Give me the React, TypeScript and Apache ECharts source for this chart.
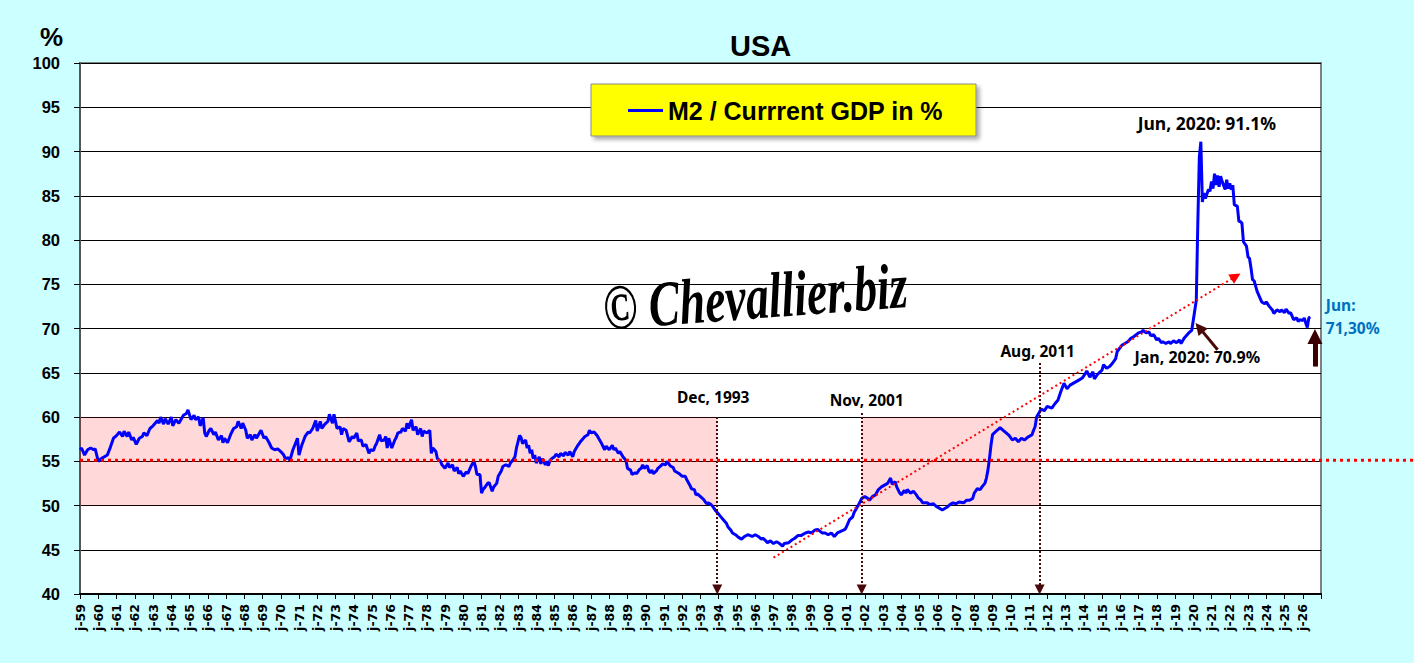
import { useEffect, useRef } from 'react'
import * as echarts from 'echarts'

// M2 / current GDP (%) — USA, monthly readings taken from the chart
const FIRST_YEAR = 1959
const AXIS_MONTHS = 816 // Jan 1959 .. Dec 2026

const months = [
  '1959-01','1959-02','1959-04','1959-06','1959-08','1959-10','1959-11',
  '1960-01','1960-03','1960-07','1960-09','1960-11',
  '1961-01','1961-03','1961-05','1961-06','1961-08','1961-09','1961-11','1961-12',
  '1962-02','1962-04','1962-06','1962-07','1962-09','1962-11',
  '1963-01','1963-04','1963-05','1963-06','1963-08','1963-09','1963-11',
  '1964-01','1964-02','1964-04','1964-06','1964-08','1964-09','1964-11','1964-12',
  '1965-02','1965-04','1965-05','1965-07','1965-08','1965-10','1965-11','1965-12',
  '1966-02','1966-03','1966-05','1966-06','1966-08','1966-10','1966-11','1966-12',
  '1967-02','1967-04','1967-06','1967-08','1967-09','1967-11','1967-12',
  '1968-02','1968-03','1968-05','1968-06','1968-08','1968-09','1968-11','1968-12',
  '1969-02','1969-03','1969-05','1969-07','1969-09','1969-11',
  '1970-01','1970-03','1970-04','1970-06','1970-07','1970-09','1970-12',
  '1971-01','1971-03','1971-05','1971-07','1971-08','1971-10','1971-12',
  '1972-01','1972-03','1972-04','1972-06','1972-08','1972-09','1972-11','1972-12',
  '1973-02','1973-04','1973-05','1973-06','1973-08','1973-10','1973-12',
  '1974-01','1974-03','1974-04','1974-06','1974-07','1974-09','1974-11','1974-12',
  '1975-02','1975-03','1975-04','1975-06','1975-07','1975-09','1975-10','1975-11','1975-12',
  '1976-02','1976-04','1976-05','1976-06','1976-08','1976-09','1976-11','1976-12',
  '1977-01','1977-03','1977-04','1977-06','1977-07','1977-09','1977-10','1977-11',
  '1978-01','1978-03','1978-04','1978-05','1978-07','1978-08','1978-10','1978-11',
  '1979-01','1979-03','1979-04','1979-06','1979-07','1979-09','1979-10','1979-11',
  '1980-01','1980-03','1980-04','1980-06','1980-08','1980-09','1980-10','1980-12',
  '1981-01','1981-02','1981-03','1981-05','1981-06','1981-08','1981-09','1981-11','1981-12',
  '1982-02','1982-03','1982-05','1982-07','1982-08','1982-09','1982-11','1982-12',
  '1983-01','1983-02','1983-03','1983-04','1983-06','1983-07','1983-08','1983-09','1983-10','1983-11','1983-12',
  '1984-01','1984-03','1984-04','1984-05','1984-07','1984-08','1984-09','1984-10','1984-12',
  '1985-01','1985-02','1985-04','1985-05','1985-07','1985-08','1985-10','1985-11',
  '1986-01','1986-02','1986-04','1986-06','1986-07','1986-09','1986-11','1986-12',
  '1987-01','1987-03','1987-05','1987-06','1987-08','1987-10','1987-11',
  '1988-01','1988-03','1988-04','1988-05','1988-07','1988-08','1988-10','1988-12',
  '1989-01','1989-03','1989-04','1989-06','1989-07','1989-09','1989-10','1989-11','1989-12',
  '1990-02','1990-03','1990-04','1990-05','1990-06','1990-08','1990-09','1990-11','1990-12',
  '1991-02','1991-03','1991-05','1991-07','1991-08','1991-10','1991-11',
  '1992-01','1992-03','1992-04','1992-06','1992-07','1992-09','1992-10','1992-11',
  '1993-01','1993-03','1993-05','1993-06','1993-08','1993-09','1993-11',
  '1994-01','1994-02','1994-04','1994-06','1994-07','1994-09','1994-10','1994-12',
  '1995-02','1995-04','1995-06','1995-08','1995-11',
  '1996-01','1996-03','1996-05','1996-06','1996-08','1996-09','1996-11',
  '1997-01','1997-03','1997-05','1997-07','1997-08','1997-11',
  '1998-01','1998-03','1998-05','1998-07','1998-10','1998-12',
  '1999-02','1999-04','1999-06','1999-09','1999-11',
  '2000-01','2000-03','2000-05','2000-07','2000-12',
  '2001-01','2001-03','2001-05','2001-06','2001-09','2001-11',
  '2002-01','2002-03','2002-04','2002-06','2002-08','2002-10','2002-12',
  '2003-02','2003-04','2003-05','2003-06','2003-07','2003-09','2003-10','2003-12',
  '2004-01','2004-03','2004-04','2004-05','2004-07','2004-09','2004-11','2004-12',
  '2005-02','2005-03','2005-06','2005-08','2005-10','2005-12',
  '2006-02','2006-04','2006-07','2006-09','2006-11',
  '2007-01','2007-03','2007-06','2007-08','2007-10','2007-12',
  '2008-01','2008-03','2008-05','2008-06','2008-08','2008-09','2008-10','2008-11','2008-12',
  '2009-01','2009-04','2009-06','2009-08','2009-10','2009-12',
  '2010-02','2010-04','2010-06','2010-08','2010-10','2010-12',
  '2011-03','2011-04','2011-05','2011-06','2011-08','2011-09','2011-11',
  '2012-01','2012-04','2012-06','2012-08','2012-10','2012-12',
  '2013-02','2013-04','2013-06','2013-08','2013-10','2013-12',
  '2014-02','2014-03','2014-05','2014-07','2014-08','2014-10',
  '2015-01','2015-02','2015-04','2015-06','2015-08','2015-10','2015-11',
  '2016-02','2016-04','2016-06','2016-08','2016-10',
  '2017-01','2017-03','2017-04','2017-06','2017-08','2017-09','2017-11',
  '2018-01','2018-02','2018-04','2018-05','2018-07','2018-09','2018-10','2018-12',
  '2019-02','2019-04','2019-05','2019-07','2019-08','2019-10','2019-12',
  '2020-01','2020-03','2020-04','2020-05','2020-06','2020-07','2020-08','2020-09','2020-11','2020-12',
  '2021-01','2021-02','2021-03','2021-04','2021-05','2021-06','2021-07','2021-08','2021-10','2021-11','2021-12',
  '2022-01','2022-02','2022-03','2022-04','2022-06','2022-07','2022-08','2022-09','2022-10','2022-12',
  '2023-01','2023-02','2023-03','2023-04','2023-05','2023-07','2023-09','2023-10','2023-12',
  '2024-01','2024-03','2024-05','2024-06','2024-08','2024-10','2024-11',
  '2025-01','2025-02','2025-04','2025-05','2025-07','2025-09','2025-10','2025-11',
  '2026-01','2026-02','2026-03','2026-04','2026-05','2026-06',
]

const m2ToGdp = [
  56.3,56.5,55.7,56.3,56.5,56.3,56.4,
  55.0,55.3,55.7,56.6,57.6,
  57.9,58.3,57.8,58.4,57.8,58.3,57.4,57.7,
  56.9,57.6,57.8,58.2,57.9,58.7,
  59.0,59.6,59.3,60.0,59.2,59.8,59.2,
  60.0,59.0,59.7,59.3,59.9,60.2,60.4,60.8,
  59.7,60.2,59.7,60.0,59.0,59.9,58.2,57.8,
  58.5,58.7,58.0,58.3,57.4,57.9,57.1,57.6,
  57.1,58.0,58.7,58.9,59.5,58.7,59.3,
  58.5,57.6,58.0,57.4,58.0,57.6,58.2,58.5,
  57.6,57.8,57.2,56.5,56.3,56.4,
  56.1,55.7,55.3,55.4,55.1,56.3,57.6,
  55.7,56.9,57.8,58.3,58.2,58.7,59.6,
  58.4,59.5,58.7,59.2,59.5,60.3,59.3,60.3,
  58.7,58.9,58.0,58.7,58.5,57.2,57.8,
  57.6,58.2,57.3,57.4,56.7,56.9,55.9,56.3,
  56.2,56.7,57.0,58.0,57.3,57.4,57.8,56.5,57.6,
  56.5,57.4,57.7,58.2,58.3,58.7,58.4,59.3,
  58.7,59.7,58.5,58.9,58.0,58.7,57.8,58.4,
  58.2,58.5,55.9,56.5,56.1,55.3,55.0,54.6,
  54.2,54.8,54.3,54.6,53.9,54.3,53.6,53.9,
  53.3,53.8,53.6,54.4,55.0,54.4,53.5,53.5,
  51.4,51.8,52.0,52.5,52.6,51.6,52.1,52.5,53.3,
  53.9,54.4,54.6,54.4,54.8,55.0,55.5,56.5,
  57.2,57.9,57.7,57.0,57.4,56.5,56.8,55.9,56.3,55.3,55.7,
  54.8,55.5,54.7,55.3,54.6,55.0,54.5,55.1,55.4,
  55.5,55.8,55.5,55.9,55.6,56.0,55.7,56.1,
  55.5,56.1,56.7,57.2,57.4,57.8,58.0,58.5,
  58.2,58.3,57.9,57.6,57.0,56.3,56.7,
  56.3,56.8,56.3,56.5,55.9,56.1,55.5,55.1,
  54.2,54.0,53.5,53.7,53.6,54.1,54.2,54.6,54.2,
  54.5,53.9,53.7,54.0,53.6,53.9,54.2,54.5,54.7,
  54.6,55.0,54.5,54.3,53.9,53.7,53.6,
  53.3,53.3,52.9,52.3,51.9,51.8,51.2,51.3,
  51.0,50.7,50.2,50.3,50.1,49.9,49.4,
  49.0,48.8,48.4,48.0,47.6,47.2,46.9,46.7,
  46.4,46.2,46.5,46.7,46.5,
  46.7,46.5,46.2,46.3,46.0,45.8,46.0,
  45.7,45.9,45.7,45.4,45.7,45.8,
  46.1,46.3,46.6,46.6,46.9,47.0,
  46.9,47.2,47.3,46.9,46.9,
  46.7,46.9,46.5,46.9,47.3,
  47.6,48.4,48.7,49.2,50.1,50.8,
  51.0,50.8,50.6,51.0,51.2,51.8,52.1,
  52.3,52.5,52.8,53.1,52.4,52.7,52.1,51.4,
  51.2,51.7,51.4,51.8,51.4,51.6,51.2,50.9,
  50.6,50.3,50.3,50.1,50.2,49.9,
  49.7,49.5,49.8,50.1,50.3,
  50.2,50.4,50.3,50.6,50.6,50.8,
  51.4,51.9,51.8,52.1,52.5,53.1,54.0,55.3,56.8,
  58.0,58.5,58.8,58.5,58.2,57.9,
  57.4,57.6,57.2,57.6,57.4,57.7,
  58.0,58.5,58.9,60.0,60.6,60.9,60.7,
  61.2,61.0,61.5,61.9,62.9,63.8,
  63.2,63.6,63.8,64.0,64.2,64.4,
  64.9,65.2,64.5,65.1,64.3,64.8,
  65.3,65.9,65.5,65.7,66.1,66.6,67.4,
  68.1,68.3,68.5,68.9,69.1,
  69.5,69.6,69.8,69.5,69.6,69.2,69.3,
  68.7,68.9,68.4,68.5,68.3,68.5,68.3,68.6,
  68.4,68.7,68.3,68.9,69.1,69.5,69.8,
  70.9,73.2,81.9,89.4,91.1,84.3,85.3,84.7,85.7,85.5,
  86.6,85.8,87.5,86.2,87.3,86.0,87.2,86.6,85.7,86.8,85.8,
  86.4,85.7,86.2,84.0,83.8,82.1,82.1,81.9,79.8,79.3,
  78.1,77.9,76.8,75.5,75.4,74.2,73.4,73.0,72.8,
  73.0,72.5,72.1,71.7,72.1,71.9,72.1,
  71.8,72.2,71.7,71.8,71.0,71.2,70.8,71.0,
  70.9,71.2,70.6,70.1,71.2,71.3,
]

const seriesName = 'M2 / Currrent GDP in %'

// shaded 50–60 % corridors
const bandStarts = ['1959-01', '2001-11']
const bandEnds = ['1993-12', '2011-08']
const bandRange = [50, 60]
const referenceLevel = 55

// dated markers with dotted arrows down to the axis
const eventMonths = ['1993-12', '2001-11', '2011-08']
const eventLabels = ['Dec, 1993', 'Nov, 2001', 'Aug, 2011']
const eventTops = [60, 60.45, 66.1]

// red dotted trend arrow
const trendStart: [string, number] = ['1997-01', 44.1]
const trendEnd: [string, number] = ['2022-05', 75.9]

// call-outs
const peakPoint: [string, number] = ['2020-06', 91.1]
const peakLabel = 'Jun, 2020: 91.1%'
const preCovidPoint: [string, number] = ['2020-01', 70.9]
const preCovidLabel = 'Jan, 2020: 70.9%'
const preCovidArrowStart: [string, number] = ['2021-05', 67.6]
const preCovidArrowEnd: [string, number] = ['2020-05', 70.1]
const latestLabel = 'Jun:\n71,30%'
const latestArrowStart: [string, number] = ['2026-09', 65.7]
const latestArrowEnd: [string, number] = ['2026-09', 69.1]

const toIndex = (s: string) => {
  const [y, m] = s.split('-').map(Number)
  return (y - FIRST_YEAR) * 12 + m - 1
}

const ANNOT_FONT = 'Noto Sans'

export default function App() {
  const ref = useRef<HTMLDivElement>(null)

  useEffect(() => {
    if (!ref.current) return
    const chart = echarts.init(ref.current, null, { renderer: 'svg' })

    const n = Math.min(months.length, m2ToGdp.length)
    const points: Array<[number, number]> = []
    for (let i = 0; i < n; i++) points.push([toIndex(months[i]), m2ToGdp[i]])
    const last = points[points.length - 1]

    const brown = '#4a0808'

    chart.setOption({
      animation: false,
      backgroundColor: '#CCFFFF',
      textStyle: { fontFamily: 'Liberation Sans' },
      title: [
        {
          text: 'USA',
          left: 730,
          top: 31,
          padding: 0,
          textStyle: { fontFamily: 'Liberation Sans', fontWeight: 'bold', fontSize: 29, color: '#000' },
        },
        {
          text: '%',
          left: 40,
          top: 24,
          padding: 0,
          textStyle: { fontFamily: 'Liberation Sans', fontWeight: 'bold', fontSize: 26, color: '#000' },
        },
      ],
      legend: {
        data: [seriesName],
        left: 591,
        top: 84,
        padding: [14, 33, 13, 37],
        icon: 'rect',
        itemWidth: 35,
        itemHeight: 3,
        selectedMode: false,
        backgroundColor: '#FFFF00',
        borderColor: '#8a8a8a',
        borderWidth: 1,
        shadowBlur: 4,
        shadowOffsetX: 3,
        shadowOffsetY: 3,
        shadowColor: 'rgba(0,0,0,0.35)',
        textStyle: { fontFamily: 'Liberation Sans', fontWeight: 'bold', fontSize: 25, color: '#000' },
      },
      grid: {
        left: 80,
        right: 93,
        top: 63,
        bottom: 69,
        show: true,
        backgroundColor: '#FFFFFF',
        borderColor: '#808080',
        borderWidth: 2,
      },
      xAxis: {
        type: 'value',
        min: 0,
        max: AXIS_MONTHS,
        interval: 12,
        axisLine: { lineStyle: { color: '#000', width: 2 } },
        axisTick: { length: 5, lineStyle: { color: '#000', width: 1 } },
        splitLine: { show: false },
        axisLabel: {
          rotate: 90,
          margin: 10,
          color: '#000',
          fontFamily: 'DejaVu Sans',
          fontWeight: 'bold',
          fontSize: 12.5,
          formatter: (v: number) =>
            v >= AXIS_MONTHS ? '' : `j-${String((FIRST_YEAR + v / 12) % 100).padStart(2, '0')}`,
        },
      },
      yAxis: {
        type: 'value',
        min: 40,
        max: 100,
        interval: 5,
        axisLine: { show: true, lineStyle: { color: '#555', width: 2 } },
        axisTick: { show: true, length: 6, lineStyle: { color: '#000', width: 1 } },
        splitLine: { lineStyle: { color: '#000', width: 1 } },
        axisLabel: {
          margin: 20,
          color: '#000',
          fontFamily: 'Liberation Sans',
          fontWeight: 'bold',
          fontSize: 16.5,
        },
      },
      series: [
        {
          name: seriesName,
          type: 'line',
          data: points,
          symbol: 'none',
          z: 3,
          lineStyle: { color: '#0000FF', width: 3 },
          itemStyle: { color: '#0000FF' },
          markArea: {
            silent: true,
            itemStyle: { color: 'rgba(255,0,0,0.15)' },
            data: bandStarts.map((s, i) => [
              { coord: [toIndex(s), bandRange[0]] },
              { coord: [toIndex(bandEnds[i]), bandRange[1]] },
            ]),
          },
          markLine: {
            silent: true,
            label: { show: false },
            data: [
              ...eventMonths.map((d, i) => [
                {
                  coord: [toIndex(d), eventTops[i]],
                  symbol: 'none',
                  lineStyle: { color: brown, width: 2, type: [2, 2] },
                },
                { coord: [toIndex(d), 40.5], symbol: 'triangle', symbolSize: 10 },
              ]),
              [
                {
                  coord: [toIndex(trendStart[0]), trendStart[1]],
                  symbol: 'none',
                  lineStyle: { color: '#FF0000', width: 2, type: [2, 3] },
                },
                { coord: [toIndex(trendEnd[0]), trendEnd[1]], symbol: 'triangle', symbolSize: 11 },
              ],
              [
                {
                  coord: [toIndex(preCovidArrowStart[0]), preCovidArrowStart[1]],
                  symbol: 'none',
                  lineStyle: { color: brown, width: 3, type: 'solid' },
                },
                { coord: [toIndex(preCovidArrowEnd[0]), preCovidArrowEnd[1]], symbol: 'triangle', symbolSize: 12 },
              ],
              [
                {
                  coord: [toIndex(latestArrowStart[0]), latestArrowStart[1]],
                  symbol: 'none',
                  lineStyle: { color: '#3a0000', width: 5, type: 'solid' },
                },
                { coord: [toIndex(latestArrowEnd[0]), latestArrowEnd[1]], symbol: 'triangle', symbolSize: 15 },
              ],
            ],
          },
          markPoint: {
            silent: true,
            symbol: 'circle',
            symbolSize: 1,
            itemStyle: { color: 'rgba(0,0,0,0)' },
            label: {
              show: true,
              position: 'inside',
              color: '#000',
              fontFamily: ANNOT_FONT,
              fontWeight: 'bold',
              fontSize: 15.5,
            },
            data: [
              ...eventMonths.map((d, i) => ({
                coord: [toIndex(d), eventTops[i]],
                label: { formatter: eventLabels[i], offset: [[-4, -20], [5, -13], [-2, -12]][i] },
              })),
              {
                coord: [toIndex(peakPoint[0]), peakPoint[1]],
                label: { formatter: peakLabel, fontSize: 17.5, offset: [6, -19] },
              },
              {
                coord: [toIndex(preCovidPoint[0]), preCovidPoint[1]],
                label: { formatter: preCovidLabel, fontSize: 16, offset: [4, 36] },
              },
              {
                coord: last,
                label: {
                  formatter: latestLabel,
                  position: 'right',
                  distance: 15,
                  lineHeight: 23,
                  color: '#0070C0',
                  fontSize: 15.5,
                },
              },
            ],
          },
        },
      ],
    })

    // reference level drawn across the plot and out to the page edge
    const y55 = chart.convertToPixel({ yAxisIndex: 0 }, referenceLevel) as number
    const x0 = chart.convertToPixel({ xAxisIndex: 0 }, 0) as number
    chart.setOption({
      graphic: [
        {
          type: 'line',
          z: 60,
          silent: true,
          shape: { x1: x0, y1: y55 - 1, x2: chart.getWidth(), y2: y55 - 1 },
          style: { stroke: '#FF0000', lineWidth: 3, lineDash: [3, 4] },
        },
        {
          type: 'text',
          z: 60,
          silent: true,
          x: 603,
          y: 308,
          rotation: 0.075,
          scaleY: 1.4,
          style: {
            text: '\u00A9 Chevallier.biz',
            font: 'italic bold 46px "Liberation Serif"',
            fill: '#000',
            align: 'left',
            verticalAlign: 'middle',
          },
        },
      ],
    })

    return () => chart.dispose()
  }, [])

  return (
    <div
      ref={ref}
      style={{ position: 'fixed', left: 0, top: 0, width: 1414, height: 663 }}
    />
  )
}
